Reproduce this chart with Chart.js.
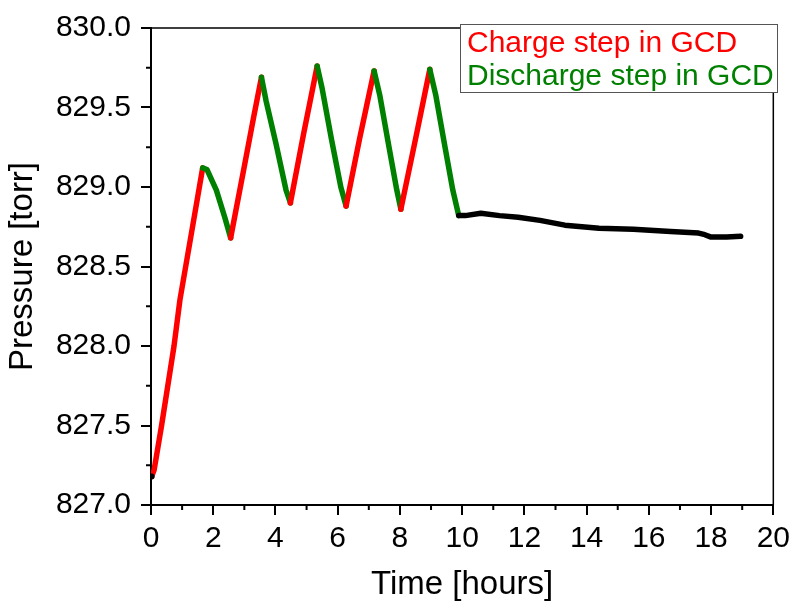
<!DOCTYPE html>
<html>
<head>
<meta charset="utf-8">
<script src="https://cdn.jsdelivr.net/npm/chart.js@4.4.1/dist/chart.umd.min.js"></script>
<style>
  html, body { margin: 0; padding: 0; background: #fff; }
  #wrap { width: 796px; height: 603px; }
</style>
</head>
<body>
<div id="wrap"><canvas id="chart" width="796" height="603"></canvas></div>
<script>
// Time in hours and measured pressure in torr
var timeH = [0.02, 0.1, 0.34, 0.74, 0.93, 1.3, 1.66, 1.8, 2.1, 2.37, 2.56, 3.0, 3.3, 3.55, 3.7, 4.02, 4.34, 4.48,
    4.9, 5.34, 5.5, 5.8, 6.1, 6.27, 6.7, 7.17, 7.35, 7.65, 7.9, 8.03, 8.5, 8.96, 9.15, 9.45, 9.7, 9.89,
    10.1, 10.6, 11.2, 11.8, 12.5, 13.3, 14.4, 15.5, 16.7, 17.6, 17.8, 18.0, 18.5, 18.95];
var pressure = [827.18, 827.22, 827.5, 828.0, 828.29, 828.71, 829.12, 829.11, 828.98, 828.81, 828.68, 829.13, 829.44, 829.69,
    829.54, 829.27, 828.98, 828.90, 829.33, 829.76, 829.62, 829.30, 829.00, 828.88, 829.30, 829.73, 829.58, 829.25,
    828.98, 828.86, 829.30, 829.74, 829.58, 829.25, 828.98, 828.82,
    828.82, 828.835, 828.82, 828.81, 828.79, 828.76, 828.74, 828.735, 828.72, 828.71, 828.70, 828.685, 828.685, 828.69];
// GCD step that ends at each point: c = charge, d = discharge, r = rest
var phase = ['r', 'c', 'c', 'c', 'c', 'c', 'c', 'd', 'd', 'd', 'd', 'c', 'c', 'c', 'd', 'd', 'd', 'd',
    'c', 'c', 'd', 'd', 'd', 'd', 'c', 'c', 'd', 'd', 'd', 'd', 'c', 'c', 'd', 'd', 'd', 'd',
    'r', 'r', 'r', 'r', 'r', 'r', 'r', 'r', 'r', 'r', 'r', 'r', 'r', 'r'];

var xTicks = [0, 2, 4, 6, 8, 10, 12, 14, 16, 18, 20];
var xMinor = [1, 3, 5, 7, 9, 11, 13, 15, 17, 19];
var yTicks = [827.0, 827.5, 828.0, 828.5, 829.0, 829.5, 830.0];
var yMinor = [827.25, 827.75, 828.25, 828.75, 829.25, 829.75];
var legendLabels = ['Charge step in GCD', 'Discharge step in GCD'];

var phaseColors = { c: '#ff0000', d: '#008000', r: '#000000' };
var FONT = '"Liberation Sans", Arial, sans-serif';

var points = timeH.map((t, i) => ({ x: t, y: pressure[i] }));

// Minor ticks, top/right frame lines and the boxed legend
var framePlugin = {
    id: 'frame',
    afterDraw(chart) {
        var ctx = chart.ctx;
        var area = chart.chartArea;
        var xs = chart.scales.x, ys = chart.scales.y;
        ctx.save();
        ctx.strokeStyle = '#000';
        ctx.lineWidth = 2;
        ctx.beginPath();
        xMinor.forEach(v => {
            var px = xs.getPixelForValue(v);
            ctx.moveTo(px, area.bottom);
            ctx.lineTo(px, area.bottom + 5);
        });
        yMinor.forEach(v => {
            var py = ys.getPixelForValue(v);
            ctx.moveTo(area.left, py);
            ctx.lineTo(area.left - 5, py);
        });
        ctx.stroke();

        ctx.lineWidth = 1.5;
        ctx.beginPath();
        ctx.moveTo(area.left, area.top);
        ctx.lineTo(area.right, area.top);
        ctx.lineTo(area.right, area.bottom);
        ctx.stroke();

        // legend box
        var bx = 460, by = 24, bw = 317, bh = 68;
        ctx.fillStyle = '#fff';
        ctx.fillRect(bx, by, bw, bh);
        ctx.strokeStyle = '#555';
        ctx.lineWidth = 1;
        ctx.strokeRect(bx + 0.5, by + 0.5, bw, bh);
        ctx.font = '30px ' + FONT;
        ctx.textBaseline = 'alphabetic';
        ctx.textAlign = 'left';
        ctx.fillStyle = phaseColors.c;
        ctx.fillText(legendLabels[0], 467, 52);
        ctx.fillStyle = phaseColors.d;
        ctx.fillText(legendLabels[1], 467, 85);
        ctx.restore();
    }
};

var config = {
    type: 'line',
    data: {
        datasets: [{
            data: points,
            borderWidth: 5.5,
            borderColor: '#000',
            borderCapStyle: 'round',
            borderJoinStyle: 'round',
            tension: 0,
            pointRadius: (c) => c.dataIndex === 0 ? 3 : 0,
            pointBackgroundColor: '#000',
            pointBorderWidth: 0,
            segment: {
                borderColor: (c) => phaseColors[phase[c.p1DataIndex]]
            }
        }]
    },
    options: {
        responsive: false,
        animation: false,
        devicePixelRatio: 1,
        layout: { padding: { top: 27, right: 20, left: 0, bottom: 0 } },
        plugins: { legend: { display: false }, tooltip: { enabled: false } },
        scales: {
            x: {
                type: 'linear',
                min: 0, max: 20,
                afterFit: (s) => { s.height = 98; },
                afterBuildTicks: (s) => { s.ticks = xTicks.map(v => ({ value: v })); },
                grid: { drawOnChartArea: false, color: '#000', lineWidth: 2, tickLength: 10 },
                border: { color: '#000', width: 2 },
                ticks: { color: '#000', padding: 6, maxRotation: 0, font: { family: FONT, size: 30 } },
                title: {
                    display: true, text: 'Time [hours]', color: '#000',
                    padding: { top: 0, bottom: 0 },
                    font: { family: FONT, size: 33, lineHeight: 1.1 }
                }
            },
            y: {
                type: 'linear',
                min: 827, max: 830,
                afterFit: (s) => { s.width = 151; },
                afterBuildTicks: (s) => { s.ticks = yTicks.map(v => ({ value: v })); },
                grid: { drawOnChartArea: false, color: '#000', lineWidth: 2, tickLength: 10 },
                border: { color: '#000', width: 2 },
                ticks: {
                    color: '#000', padding: 10,
                    font: { family: FONT, size: 30 },
                    callback: (v) => Number(v).toFixed(1)
                },
                title: {
                    display: true, text: 'Pressure [torr]', color: '#000',
                    padding: { top: 3, bottom: 0 },
                    font: { family: FONT, size: 33, lineHeight: 1.2 }
                }
            }
        }
    },
    plugins: [framePlugin]
};

var chartObj = new Chart(document.getElementById('chart'), config);
</script>
</body>
</html>
